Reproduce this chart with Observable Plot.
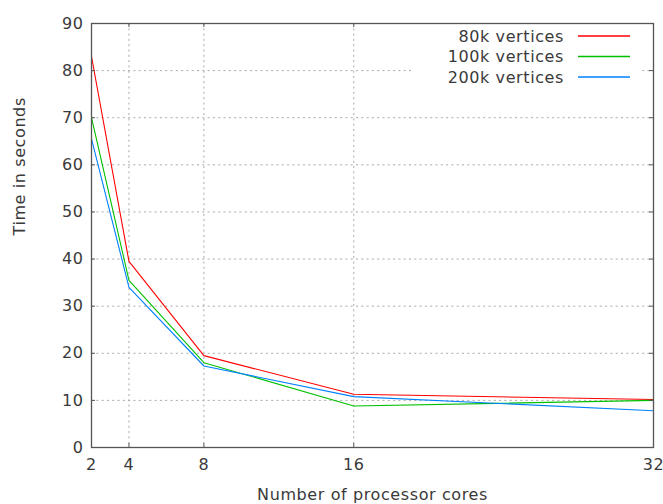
<!DOCTYPE html>
<html>
<head>
<meta charset="utf-8">
<script src="https://cdn.jsdelivr.net/npm/d3@7"></script>
<script src="https://cdn.jsdelivr.net/npm/@observablehq/plot@0.6"></script>
<style>
  html, body { margin: 0; padding: 0; background: #fff; }
  svg { font-family: "DejaVu Sans", sans-serif; letter-spacing: 0.6px; }
</style>
</head>
<body>
<div id="chart"></div>
<script>
const cores = [2, 4, 8, 16, 32];
const series = ["80k vertices", "100k vertices", "200k vertices"];
const colors = ["#ff0000", "#00c000", "#0080ff"];
const time80k = [83, 39.5, 19.5, 11.3, 10.2];
const time100k = [70, 35.5, 18, 8.8, 10];
const time200k = [65.5, 34, 17.3, 10.8, 7.8];
const xTicks = [2, 4, 8, 16, 32];
const yTicks = [0, 10, 20, 30, 40, 50, 60, 70, 80, 90];
const xLabel = "Number of processor cores";
const yLabel = "Time in seconds";

const allSeries = [time80k, time100k, time200k];
const data = [];
series.forEach((s, i) => cores.forEach((c, j) => data.push({series: s, cores: c, time: allSeries[i][j]})));

const W = 663, H = 504;
const mL = 91, mR = 10, mT = 23, mB = 57;
const textColor = "#3a3a3a";
const tick = 4;

// legend as a custom mark (white box covering grid, text + sample lines)
function legendMark(index, scales, values, dimensions) {
  const g = d3.create("svg:g");
  const right = dimensions.width - dimensions.marginRight;
  const top = dimensions.marginTop;
  g.append("rect")
    .attr("x", right - 240).attr("y", top + 3)
    .attr("width", 228).attr("height", 62)
    .attr("fill", "#fff");
  series.forEach((s, i) => {
    const y = top + 13 + i * 20.5;
    g.append("text")
      .attr("x", right - 89).attr("y", y)
      .attr("dy", "0.35em")
      .attr("text-anchor", "end")
      .attr("fill", textColor)
      .attr("font-size", 16)
      .text(s);
    g.append("line")
      .attr("x1", right - 75).attr("x2", right - 23)
      .attr("y1", y).attr("y2", y)
      .attr("stroke", scales.color(s))
      .attr("stroke-width", 1.3);
  });
  return g.node();
}

const plot = Plot.plot({
  width: W,
  height: H,
  marginLeft: mL,
  marginRight: mR,
  marginTop: mT,
  marginBottom: mB,
  style: {background: "#fff", color: textColor, fontSize: "16px", fontFamily: "DejaVu Sans, sans-serif"},
  x: {type: "linear", domain: [2, 32]},
  y: {domain: [0, 90]},
  color: {domain: series, range: colors},
  marks: [
    Plot.gridX(xTicks.filter(d => d !== 2 && d !== 32), {stroke: "#a8a8a8", strokeOpacity: 1, strokeDasharray: "2,3.3"}),
    Plot.gridY(yTicks.filter(d => d !== 0 && d !== 90), {stroke: "#a8a8a8", strokeOpacity: 1, strokeDasharray: "2,3.3"}),
    legendMark,
    Plot.line(data, {x: "cores", y: "time", stroke: "series", strokeWidth: 1.1}),
    // inward ticks on all sides
    Plot.tickY(yTicks, {y: d => d, stroke: "#555", insetRight: W - mL - mR - tick}),
    Plot.tickY(yTicks, {y: d => d, stroke: "#555", insetLeft: W - mL - mR - tick}),
    Plot.tickX(xTicks, {x: d => d, stroke: "#555", insetTop: H - mT - mB - tick}),
    Plot.tickX(xTicks, {x: d => d, stroke: "#555", insetBottom: H - mT - mB - tick}),
    Plot.frame({stroke: "#555", strokeWidth: 1.3}),
    Plot.axisX(xTicks, {tickSize: 0, tickPadding: 11, label: null, fill: textColor, fontSize: 16}),
    Plot.axisY(yTicks, {tickSize: 0, tickPadding: 8, label: null, fill: textColor, fontSize: 16}),
    Plot.text([xLabel], {text: d => d, frameAnchor: "bottom", dy: 52, fill: textColor, fontSize: 16}),
    Plot.text([yLabel], {text: d => d, frameAnchor: "left", rotate: -90, dx: -72, fill: textColor, fontSize: 16})
  ]
});
document.getElementById("chart").appendChild(plot);
</script>
</body>
</html>
